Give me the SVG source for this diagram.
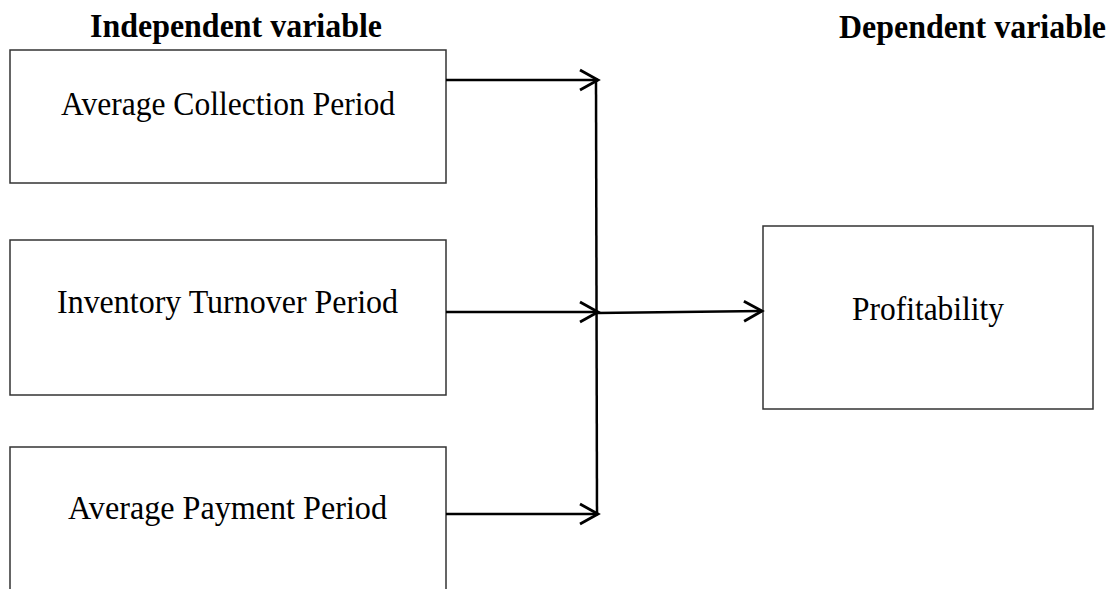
<svg xmlns="http://www.w3.org/2000/svg" width="1116" height="589" viewBox="0 0 1116 589">
<style>
.box{fill:#fff;stroke:#333;stroke-width:1.5}
.lbl{font-family:"Liberation Serif","Times New Roman",serif;font-size:33px;fill:#000}
.ttl{font-family:"Liberation Serif","Times New Roman",serif;font-size:33px;font-weight:bold;fill:#000}
.con{fill:none;stroke:#000;stroke-width:2.5}
</style>
<defs>
<marker id="arr" markerWidth="22" markerHeight="26" refX="19" refY="13" orient="auto" markerUnits="userSpaceOnUse">
<path d="M1,3 L19,13 L1,23" fill="none" stroke="#000" stroke-width="2.8"/>
</marker>
</defs>
<rect width="1116" height="589" fill="#fff"/>
<text class="ttl" x="90" y="37" textLength="292" lengthAdjust="spacingAndGlyphs">Independent variable</text>
<text class="ttl" x="839" y="38" textLength="267" lengthAdjust="spacingAndGlyphs">Dependent variable</text>
<g id="node-acp">
<rect class="box" x="10" y="50" width="436" height="133"/>
<text class="lbl" x="61" y="115" textLength="334" lengthAdjust="spacingAndGlyphs">Average Collection Period</text>
</g>
<g id="node-itp">
<rect class="box" x="10" y="240" width="436" height="155"/>
<text class="lbl" x="57" y="313" textLength="341" lengthAdjust="spacingAndGlyphs">Inventory Turnover Period</text>
</g>
<g id="node-app">
<rect class="box" x="10" y="447" width="436" height="160"/>
<text class="lbl" x="68" y="519" textLength="319" lengthAdjust="spacingAndGlyphs">Average Payment Period</text>
</g>
<g id="node-profit">
<rect class="box" x="763" y="226" width="330" height="183"/>
<text class="lbl" x="852" y="320" textLength="152" lengthAdjust="spacingAndGlyphs">Profitability</text>
</g>
<g id="connectors">
<line class="con" x1="446" y1="80" x2="598" y2="80" marker-end="url(#arr)"/>
<line class="con" x1="446" y1="312" x2="598" y2="312" marker-end="url(#arr)"/>
<line class="con" x1="446" y1="514" x2="598" y2="514" marker-end="url(#arr)"/>
<line class="con" x1="596" y1="80" x2="597" y2="514"/>
<line class="con" x1="597" y1="313" x2="762" y2="311" marker-end="url(#arr)"/>
</g>
</svg>
